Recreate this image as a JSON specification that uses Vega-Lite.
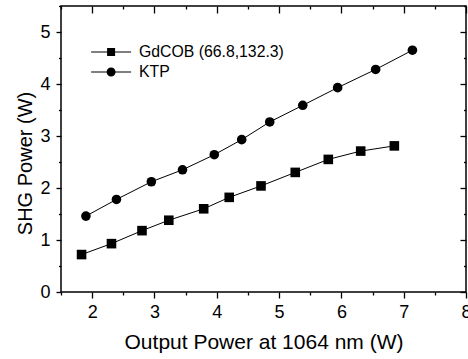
{
  "$schema": "https://vega.github.io/schema/vega-lite/v6.json",
  "autosize": "none",
  "padding": {"left": 61, "top": 6, "right": 2, "bottom": 67},
  "width": 405,
  "height": 286,
  "background": "white",
  "config": {
    "view": {"stroke": "black", "strokeWidth": 1.5},
    "font": "Liberation Sans",
    "axis": {
      "domain": false,
      "grid": false,
      "tickColor": "black",
      "tickWidth": 1.3,
      "labelColor": "black",
      "titleColor": "black",
      "labelFont": "Liberation Sans",
      "titleFont": "Liberation Sans",
      "labelFontSize": 18,
      "titleFontSize": 20,
      "titleFontWeight": "normal",
      "labelOverlap": false,
      "labelFlush": false
    }
  },
  "data": {
    "values": [
      {"series": "GdCOB (66.8,132.3)", "p": 1.83, "shg": 0.72},
      {"series": "GdCOB (66.8,132.3)", "p": 2.31, "shg": 0.93},
      {"series": "GdCOB (66.8,132.3)", "p": 2.80, "shg": 1.18},
      {"series": "GdCOB (66.8,132.3)", "p": 3.23, "shg": 1.38},
      {"series": "GdCOB (66.8,132.3)", "p": 3.79, "shg": 1.60},
      {"series": "GdCOB (66.8,132.3)", "p": 4.20, "shg": 1.82},
      {"series": "GdCOB (66.8,132.3)", "p": 4.71, "shg": 2.04},
      {"series": "GdCOB (66.8,132.3)", "p": 5.26, "shg": 2.30},
      {"series": "GdCOB (66.8,132.3)", "p": 5.79, "shg": 2.55},
      {"series": "GdCOB (66.8,132.3)", "p": 6.31, "shg": 2.71},
      {"series": "GdCOB (66.8,132.3)", "p": 6.85, "shg": 2.81},
      {"series": "KTP", "p": 1.90, "shg": 1.46},
      {"series": "KTP", "p": 2.39, "shg": 1.78},
      {"series": "KTP", "p": 2.95, "shg": 2.12},
      {"series": "KTP", "p": 3.45, "shg": 2.35},
      {"series": "KTP", "p": 3.96, "shg": 2.64},
      {"series": "KTP", "p": 4.40, "shg": 2.93},
      {"series": "KTP", "p": 4.85, "shg": 3.27},
      {"series": "KTP", "p": 5.38, "shg": 3.59},
      {"series": "KTP", "p": 5.94, "shg": 3.93},
      {"series": "KTP", "p": 6.55, "shg": 4.28},
      {"series": "KTP", "p": 7.14, "shg": 4.65}
    ]
  },
  "resolve": {
    "axis": {"x": "independent", "y": "independent"},
    "scale": {"shape": "independent"},
    "legend": {"shape": "independent"}
  },
  "layer": [
    {
      "mark": {"type": "line", "color": "black", "strokeWidth": 1},
      "encoding": {
        "x": {
          "field": "p", "type": "quantitative",
          "scale": {"domain": [1.5, 8], "nice": false, "zero": false},
          "axis": {
            "orient": "bottom",
            "values": [1.5, 2, 2.5, 3, 3.5, 4, 4.5, 5, 5.5, 6, 6.5, 7, 7.5, 8],
            "tickSize": {"condition": {"test": "datum.value % 1 === 0", "value": 6}, "value": 3},
            "labelExpr": "datum.value % 1 === 0 ? format(datum.value, 'd') : ''",
            "labelPadding": 5,
            "title": "Output Power at 1064 nm (W)",
            "titleFontSize": 21,
            "titleY": 56,
            "titleBaseline": "alphabetic"
          }
        },
        "y": {
          "field": "shg", "type": "quantitative",
          "scale": {"domain": [0, 5.5], "nice": false, "zero": false},
          "axis": {
            "orient": "left",
            "values": [0, 0.5, 1, 1.5, 2, 2.5, 3, 3.5, 4, 4.5, 5, 5.5],
            "tickSize": {"condition": {"test": "datum.value % 1 === 0", "value": 5}, "value": 2.5},
            "labelExpr": "datum.value % 1 === 0 ? format(datum.value, 'd') : ''",
            "labelPadding": 6,
            "title": "SHG Power (W)",
            "titleX": -36,
            "titleY": 157,
            "titleBaseline": "middle"
          }
        },
        "detail": {"field": "series"}
      }
    },
    {
      "mark": {"type": "point", "filled": true, "opacity": 1, "color": "black", "size": 92},
      "encoding": {
        "x": {
          "field": "p", "type": "quantitative",
          "axis": {
            "orient": "top",
            "values": [1.5, 2, 2.5, 3, 3.5, 4, 4.5, 5, 5.5, 6, 6.5, 7, 7.5, 8],
            "tickSize": {"condition": {"test": "datum.value % 1 === 0", "value": -7}, "value": -3},
            "labels": false,
            "title": null
          }
        },
        "y": {
          "field": "shg", "type": "quantitative",
          "axis": {
            "orient": "right",
            "values": [0, 0.5, 1, 1.5, 2, 2.5, 3, 3.5, 4, 4.5, 5, 5.5],
            "tickSize": {"condition": {"test": "datum.value % 1 === 0", "value": -6}, "value": -2.5},
            "labels": false,
            "title": null
          }
        },
        "shape": {
          "field": "series", "type": "nominal",
          "scale": {"domain": ["GdCOB (66.8,132.3)", "KTP"], "range": ["square", "circle"]},
          "legend": null
        }
      }
    },
    {
      "mark": {"type": "point", "filled": true, "opacity": 1, "color": "black", "size": 0},
      "encoding": {
        "x": {"field": "p", "type": "quantitative", "axis": null},
        "y": {"field": "shg", "type": "quantitative", "axis": null},
        "shape": {
          "field": "series", "type": "nominal",
          "scale": {
            "domain": ["GdCOB (66.8,132.3)", "KTP"],
            "range": [
              "M-4,-0.1H4V0.1H-4ZM-0.8,-0.8H0.8V0.8H-0.8Z",
              "M-4,-0.1H4V0.1H-4ZM-0.9,0A0.9,0.9 0 1,1 0.9,0A0.9,0.9 0 1,1 -0.9,0Z"
            ]
          },
          "legend": {
            "title": null,
            "orient": "none",
            "legendX": 42.2,
            "legendY": 38,
            "padding": 0,
            "symbolSize": 100,
            "symbolFillColor": "black",
            "symbolOpacity": 1,
            "labelOffset": 20,
            "rowPadding": 3,
            "labelFont": "Liberation Sans",
            "labelFontSize": 15.8,
            "labelColor": "black"
          }
        }
      }
    }
  ]
}
